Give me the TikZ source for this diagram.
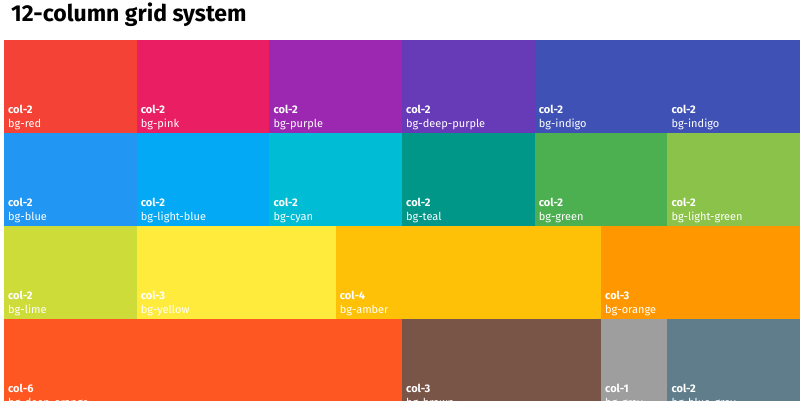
\documentclass[tikz,border=0pt]{standalone}
\usepackage{fontspec}
\setmainfont{Fira Sans}
\definecolor{mred}{HTML}{F44336}
\definecolor{mpink}{HTML}{E91E63}
\definecolor{mpurple}{HTML}{9C27B0}
\definecolor{mdeeppurple}{HTML}{673AB7}
\definecolor{mindigo}{HTML}{3F51B5}
\definecolor{mblue}{HTML}{2196F3}
\definecolor{mlightblue}{HTML}{03A9F4}
\definecolor{mcyan}{HTML}{00BCD4}
\definecolor{mteal}{HTML}{009688}
\definecolor{mgreen}{HTML}{4CAF50}
\definecolor{mlightgreen}{HTML}{8BC34A}
\definecolor{mlime}{HTML}{CDDC39}
\definecolor{myellow}{HTML}{FFEB3B}
\definecolor{mamber}{HTML}{FFC107}
\definecolor{morange}{HTML}{FF9800}
\definecolor{mdeeporange}{HTML}{FF5722}
\definecolor{mbrown}{HTML}{795548}
\definecolor{mgrey}{HTML}{9E9E9E}
\definecolor{mbluegrey}{HTML}{607D8B}
\begin{document}
\begin{tikzpicture}[x=1pt,y=1pt,
    cell/.style={inner sep=0pt,outer sep=0pt,anchor=north west,minimum height=93pt,minimum width=#1*66.333pt},
    tag/.style={inner sep=0pt,anchor=south west,align=left,text=white,font=\fontsize{11}{14}\selectfont}]
    \useasboundingbox (0,0) rectangle (800,400);
    \clip (0,0) rectangle (800,400);
    \node[anchor=base west,inner sep=0pt,font=\fontsize{23}{27}\selectfont\bfseries] (title) at (11,378) {12-column grid system};
    % first row
    \node[cell=2,fill=mred] (red) at (4,360) {};
    \node[cell=2,fill=mpink] (pink) at (136.667,360) {};
    \node[cell=2,fill=mpurple] (purple) at (269.333,360) {};
    \node[cell=2,fill=mdeeppurple] (deeppurple) at (402,360) {};
    \node[cell=2,fill=mindigo] (indigo) at (534.667,360) {};
    \node[cell=2,fill=mindigo] (indigob) at (667.333,360) {};
    % second row
    \node[cell=2,fill=mblue] (blue) at (4,267) {};
    \node[cell=2,fill=mlightblue] (lightblue) at (136.667,267) {};
    \node[cell=2,fill=mcyan] (cyan) at (269.333,267) {};
    \node[cell=2,fill=mteal] (teal) at (402,267) {};
    \node[cell=2,fill=mgreen] (green) at (534.667,267) {};
    \node[cell=2,fill=mlightgreen] (lightgreen) at (667.333,267) {};
    % third row
    \node[cell=2,fill=mlime] (lime) at (4,174) {};
    \node[cell=3,fill=myellow] (yellow) at (136.667,174) {};
    \node[cell=4,fill=mamber] (amber) at (335.667,174) {};
    \node[cell=3,fill=morange] (orange) at (601,174) {};
    % fourth row
    \node[cell=6,fill=mdeeporange] (deeporange) at (4,81) {};
    \node[cell=3,fill=mbrown] (brown) at (402,81) {};
    \node[cell=1,fill=mgrey] (grey) at (601,81) {};
    \node[cell=2,fill=mbluegrey] (bluegrey) at (667.333,81) {};
    % labels
    \node[tag] (tred) at ([shift={(4,2.5)}]red.south west) {\textbf{col-2}\\bg-red};
    \node[tag] (tpink) at ([shift={(4,2.5)}]pink.south west) {\textbf{col-2}\\bg-pink};
    \node[tag] (tpurple) at ([shift={(4,2.5)}]purple.south west) {\textbf{col-2}\\bg-purple};
    \node[tag] (tdeeppurple) at ([shift={(4,2.5)}]deeppurple.south west) {\textbf{col-2}\\bg-deep-purple};
    \node[tag] (tindigo) at ([shift={(4,2.5)}]indigo.south west) {\textbf{col-2}\\bg-indigo};
    \node[tag] (tindigob) at ([shift={(4,2.5)}]indigob.south west) {\textbf{col-2}\\bg-indigo};
    \node[tag] (tblue) at ([shift={(4,2.5)}]blue.south west) {\textbf{col-2}\\bg-blue};
    \node[tag] (tlightblue) at ([shift={(4,2.5)}]lightblue.south west) {\textbf{col-2}\\bg-light-blue};
    \node[tag] (tcyan) at ([shift={(4,2.5)}]cyan.south west) {\textbf{col-2}\\bg-cyan};
    \node[tag] (tteal) at ([shift={(4,2.5)}]teal.south west) {\textbf{col-2}\\bg-teal};
    \node[tag] (tgreen) at ([shift={(4,2.5)}]green.south west) {\textbf{col-2}\\bg-green};
    \node[tag] (tlightgreen) at ([shift={(4,2.5)}]lightgreen.south west) {\textbf{col-2}\\bg-light-green};
    \node[tag] (tlime) at ([shift={(4,2.5)}]lime.south west) {\textbf{col-2}\\bg-lime};
    \node[tag] (tyellow) at ([shift={(4,2.5)}]yellow.south west) {\textbf{col-3}\\bg-yellow};
    \node[tag] (tamber) at ([shift={(4,2.5)}]amber.south west) {\textbf{col-4}\\bg-amber};
    \node[tag] (torange) at ([shift={(4,2.5)}]orange.south west) {\textbf{col-3}\\bg-orange};
    \node[tag] (tdeeporange) at ([shift={(4,2.5)}]deeporange.south west) {\textbf{col-6}\\bg-deep-orange};
    \node[tag] (tbrown) at ([shift={(4,2.5)}]brown.south west) {\textbf{col-3}\\bg-brown};
    \node[tag] (tgrey) at ([shift={(4,2.5)}]grey.south west) {\textbf{col-1}\\bg-grey};
    \node[tag] (tbluegrey) at ([shift={(4,2.5)}]bluegrey.south west) {\textbf{col-2}\\bg-blue-grey};
\end{tikzpicture}
\end{document}
